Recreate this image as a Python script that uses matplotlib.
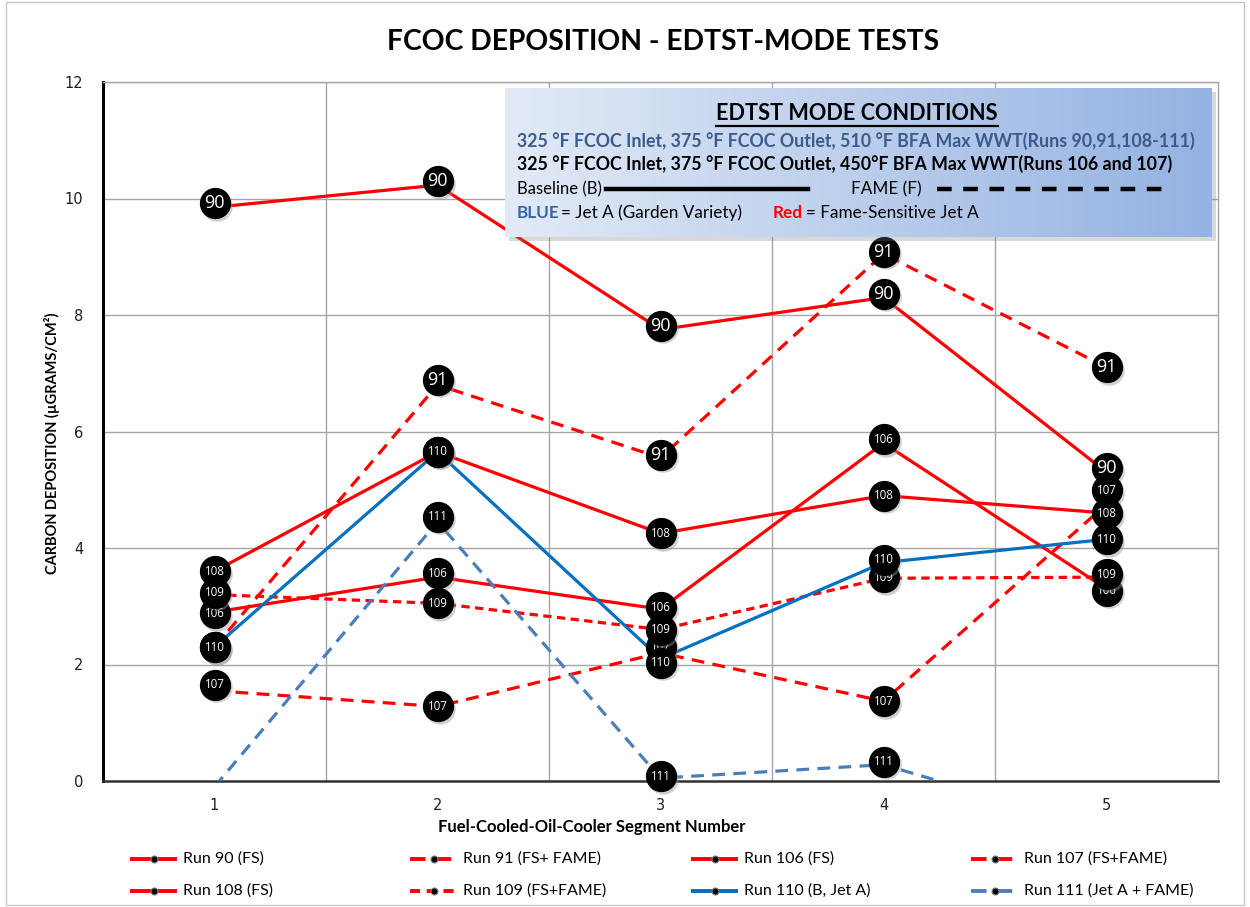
import matplotlib
matplotlib.use('Agg')
import matplotlib.pyplot as plt
import numpy as np
from matplotlib.lines import Line2D
from matplotlib.patches import Rectangle
import matplotlib.transforms as mtransforms

# ---------------- data ----------------
segments = [1, 2, 3, 4, 5]
run_names = ['90', '91', '106', '107', '108', '109', '110', '111']
legend_labels = ['Run 90 (FS)', 'Run 91 (FS+ FAME)', 'Run 106 (FS)', 'Run 107 (FS+FAME)',
                 'Run 108 (FS)', 'Run 109 (FS+FAME)', 'Run 110 (B, Jet A)', 'Run 111 (Jet A + FAME)']
run90 = [9.85, 10.23, 7.75, 8.30, 5.30]
run91 = [2.30, 6.80, 5.55, 9.05, 7.10]
run106 = [2.90, 3.50, 2.95, 5.80, 3.30]
run107 = [1.55, 1.28, 2.20, 1.37, 4.75]
run108 = [3.60, 5.65, 4.25, 4.90, 4.60]
run109 = [3.20, 3.05, 2.60, 3.48, 3.50]
run110 = [2.30, 5.65, 2.10, 3.75, 4.15]
run111 = [-0.10, 4.45, 0.05, 0.28, -0.85]
y_ticks = [0, 2, 4, 6, 8, 10, 12]
title = 'FCOC DEPOSITION - EDTST-MODE TESTS'
xlabel = 'Fuel-Cooled-Oil-Cooler Segment Number'
ylabel = 'CARBON DEPOSITION (µGRAMS/CM²)'

series = [run90, run91, run106, run107, run108, run109, run110, run111]

# ---------------- styles ----------------
RED = '#FF0000'
BLUE = '#0070C0'
BLUE2 = '#4A7EBB'
colors = [RED, RED, RED, RED, RED, RED, BLUE, BLUE2]
long_dash = (4.0, 2.6)
short_dash = (2.6, 1.7)
styles = [None, long_dash, None, long_dash, None, short_dash, None, long_dash]
# label offsets in pixels (dx, dy up)
offsets = [
    [(0, 4)] * 5,
    [(0, 0), (0, 5), (0, 3), (0, 2), (0, 0)],
    [(0, -1), (0, 4), (0, 2), (0, 4), (0, -2)],
    [(0, 6), (0, 0), (0, 6), (0, 0), (0, 14)],
    [(0, 0), (0, 0), (0, 0), (0, 0), (0, 0)],
    [(0, 2), (0, 0), (0, 0), (0, 1), (0, 3)],
    [(0, 0), (0, 0), (0, -4), (0, 3), (0, 0)],
    [(0, 0), (0, 5), (0, 2), (0, 3), (0, 0)],
]
big_label = [True, True, False, False, False, False, False, False]

W, H = 1250, 907
plt.rcParams['font.family'] = ['Lato', 'DejaVu Sans']
fig = plt.figure(figsize=(W / 100, H / 100), dpi=100)


def fx(x):
    return x / W


def fy(y):
    return 1 - y / H


ax = fig.add_axes([fx(103), fy(781), fx(1218) - fx(103), fy(82) - fy(781)])
ax.set_xlim(0.5, 5.5)
ax.set_ylim(0, 12)
ax.set_yticks(y_ticks)
ax.set_xticks(segments)
ax.tick_params(axis='both', length=0, labelsize=11, colors='#404040')
ax.tick_params(axis='y', pad=14)
ax.tick_params(axis='x', pad=12)
for lbl in ax.get_xticklabels() + ax.get_yticklabels():
    lbl.set_fontfamily('DejaVu Sans')
    lbl.set_color('#202020')
    lbl.set_fontsize(10.5)

# grid
for yv in y_ticks[1:]:
    ax.axhline(yv, color='#A6A6A6', lw=1, zorder=1)
for xv in [1.5, 2.5, 3.5, 4.5]:
    ax.axvline(xv, color='#A6A6A6', lw=1, zorder=1)
ax.spines['left'].set_color('black')
ax.spines['left'].set_linewidth(2.2)
ax.spines['bottom'].set_color('#303030')
ax.spines['bottom'].set_linewidth(1.8)
ax.spines['top'].set_color('#A6A6A6')
ax.spines['right'].set_color('#A6A6A6')
ax.spines['top'].set_linewidth(1)
ax.spines['right'].set_linewidth(1)

# lines
for vals, c, st in zip(series, colors, styles):
    kw = dict(color=c, lw=2.3, zorder=3, solid_capstyle='butt', dash_capstyle='butt')
    ln, = ax.plot(segments, vals, **kw)
    if st is not None:
        ln.set_dashes(st)

# labels (black circles), each stacked above the previous one
z = 5.0
for vals, name, offs, big in zip(series, run_names, offsets, big_label):
    for xv, v, (dx, dy) in zip(segments, vals, offs):
        if v < 0:
            continue
        tr = mtransforms.offset_copy(ax.transData, fig=fig, x=dx, y=dy, units='dots')
        trs = mtransforms.offset_copy(ax.transData, fig=fig, x=dx + 2, y=dy - 2.5, units='dots')
        ax.plot([xv], [v], 'o', ms=22, color='#9a9a9a', alpha=0.45, mec='none',
                transform=trs, clip_on=False, zorder=z)
        ax.plot([xv], [v], 'o', ms=21.5, color='black', mec='black',
                transform=tr, clip_on=False, zorder=z + 0.01)
        ax.text(xv, v, name, transform=tr, ha='center', va='center',
                color='white', fontsize=13 if big else 8.3,
                family=['Open Sans', 'DejaVu Sans'], zorder=z + 0.02, clip_on=False)
        z += 0.05

# title and axis labels
fig.text(fx(663), fy(42), title, ha='center', va='center', fontsize=20.3,
         fontweight='bold', color='black')
fig.text(fx(592), fy(827), xlabel, ha='center', va='center', fontsize=12,
         fontweight='bold', color='black')
fig.text(fx(52), fy(443), ylabel, ha='center', va='center', fontsize=10.5,
         fontweight='bold', color='black', rotation=90)

# ---------------- conditions box ----------------
bx0, by0, bx1, by1 = 505, 88, 1212, 237
shadow = Rectangle((fx(bx0 + 4), fy(by1 + 4)), fx(bx1) - fx(bx0), fy(by0) - fy(by1),
                   transform=fig.transFigure, facecolor='#808080', alpha=0.3,
                   edgecolor='none', zorder=2)
fig.add_artist(shadow)
bax = fig.add_axes([fx(bx0), fy(by1), fx(bx1) - fx(bx0), fy(by0) - fy(by1)], zorder=3)
c_left = np.array([226, 234, 246]) / 255
c_right = np.array([148, 178, 226]) / 255
t = np.linspace(0, 1, 256)
grad = (c_left[None, :] * (1 - t[:, None]) + c_right[None, :] * t[:, None])[None, :, :]
bax.imshow(grad, aspect='auto', extent=[0, 1, 0, 1])
bax.set_axis_off()

TZ = 10
FS_B = 12.8
FS_N = 12.3
fig.text(fx(857), fy(113), 'EDTST MODE CONDITIONS', ha='center', va='center',
         fontsize=15.6, fontweight='bold', color='black', zorder=TZ)
fig.add_artist(Line2D([fx(716), fx(998)], [fy(126), fy(126)], color='black', lw=1.6,
                      transform=fig.transFigure, zorder=TZ))
fig.text(fx(517), fy(141), '325 °F FCOC Inlet, 375 °F FCOC Outlet, 510 °F BFA Max WWT(Runs 90,91,108-111)',
         ha='left', va='center', fontsize=FS_B, fontweight='bold', color='#3B5B8C', zorder=TZ)
fig.text(fx(517), fy(164), '325 °F FCOC Inlet, 375 °F FCOC Outlet, 450°F BFA Max WWT(Runs 106 and 107)',
         ha='left', va='center', fontsize=FS_B, fontweight='bold', color='black', zorder=TZ)
fig.text(fx(517), fy(189), 'Baseline (B)', ha='left', va='center', fontsize=12,
         color='black', zorder=TZ)
fig.add_artist(Line2D([fx(606), fx(808)], [fy(189), fy(189)], color='black', lw=3.2,
                      transform=fig.transFigure, zorder=TZ))
fig.text(fx(851), fy(189), 'FAME (F)', ha='left', va='center', fontsize=FS_N,
         color='black', zorder=TZ)
fl = Line2D([fx(937), fx(1168)], [fy(189), fy(189)], color='black', lw=3.2,
            transform=fig.transFigure, zorder=TZ)
fl.set_dashes((3.3, 2.6))
fig.add_artist(fl)
fig.text(fx(517), fy(213), 'BLUE', ha='left', va='center', fontsize=FS_N,
         fontweight='bold', color='#3567A8', zorder=TZ)
fig.text(fx(561), fy(213), '= Jet A (Garden Variety)', ha='left', va='center', fontsize=FS_N,
         color='black', zorder=TZ)
fig.text(fx(773), fy(213), 'Red', ha='left', va='center', fontsize=FS_N,
         fontweight='bold', color=RED, zorder=TZ)
fig.text(fx(806), fy(213), '= Fame-Sensitive Jet A', ha='left', va='center', fontsize=FS_N,
         color='black', zorder=TZ)

# ---------------- bottom legend ----------------
col_x = [130, 410, 691, 971]
row_y = [859, 891]
for i, (lab, c, st) in enumerate(zip(legend_labels, colors, styles)):
    r, cidx = divmod(i, 4)
    x0 = col_x[cidx]
    y0 = row_y[r]
    ln = Line2D([fx(x0), fx(x0 + 47)], [fy(y0), fy(y0)], color=c, lw=2.8,
                transform=fig.transFigure, solid_capstyle='butt', dash_capstyle='butt')
    if st is not None:
        ln.set_dashes(st)
    fig.add_artist(ln)
    fig.add_artist(Line2D([fx(x0 + 23.5)], [fy(y0)], marker='o', ms=5, color='black',
                          mec='#808080', mew=0.8, linestyle='none',
                          transform=fig.transFigure))
    fig.text(fx(x0 + 53), fy(y0), lab, ha='left', va='center', fontsize=11.5, color='black')

# chart border
fig.add_artist(Rectangle((fx(6), fy(905)), fx(1244) - fx(6), fy(2) - fy(905),
                         transform=fig.transFigure, facecolor='none',
                         edgecolor='#C8C8C8', lw=1))

fig.savefig('out.png', dpi=100)
